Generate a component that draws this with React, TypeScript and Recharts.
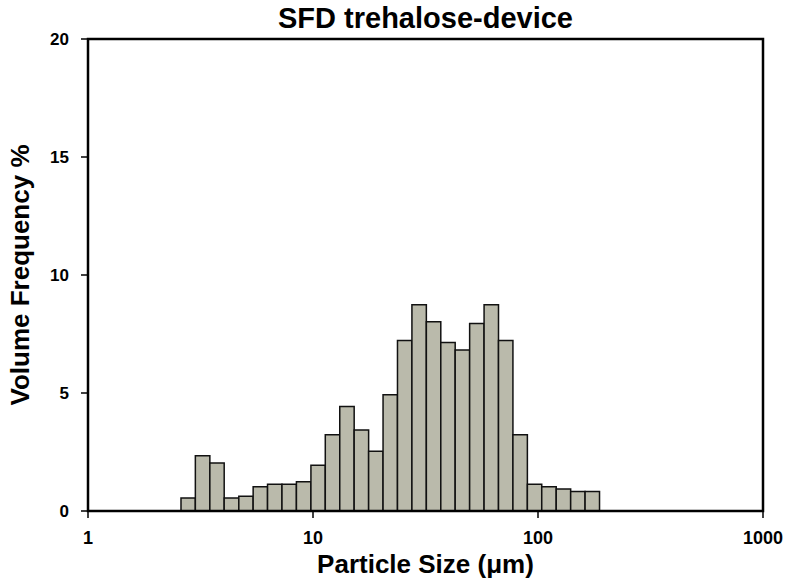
import { ComposedChart, Line, XAxis, YAxis, ReferenceArea, Label } from 'recharts';

// lower/upper edges of the size bins (um)
const binEdges = [
  2.59, 3.0, 3.48, 4.03, 4.68, 5.42, 6.28, 7.28, 8.44, 9.79, 11.34, 13.15, 15.24, 17.67, 20.48,
  23.74, 27.52, 31.9, 36.98, 42.85, 49.68, 57.59, 66.75, 77.37, 89.7, 103.9, 120.5, 139.7, 161.9, 187.7,
];
const volumeFreq = [
  0.55, 2.34, 2.03, 0.55, 0.62, 1.03, 1.13, 1.13, 1.24, 1.94, 3.23, 4.43, 3.43, 2.53, 4.93,
  7.22, 8.74, 8.02, 7.14, 6.82, 7.94, 8.74, 7.22, 3.23, 1.13, 1.03, 0.93, 0.83, 0.83,
];
const xTicks = [1, 10, 100, 1000];
const yTicks = [0, 5, 10, 15, 20];

const chartData = volumeFreq.map((v, i) => ({ size: binEdges[i], pct: v }));

const font = '"Liberation Sans", Arial, sans-serif';
const xTickStyle = { fill: '#000', fontSize: 18, fontWeight: 'bold', fontFamily: font };
const yTickStyle = { fill: '#000', fontSize: 17, fontWeight: 'bold', fontFamily: font };

export default function App() {
  return (
    <div style={{ position: 'relative', width: 800, height: 581, fontFamily: font, background: '#fff' }}>
      <style>{'body{margin:0}'}</style>
      <div
        style={{
          position: 'absolute', left: 88, width: 675, top: 4, textAlign: 'center',
          fontSize: 29, fontWeight: 'bold', lineHeight: '29px', color: '#000',
        }}
      >
        SFD trehalose-device
      </div>
      <ComposedChart width={800} height={581} data={chartData} margin={{ top: 39, right: 37, left: 0, bottom: 0 }}>
        <XAxis
          dataKey="size" type="number" scale="log" domain={[1, 1000]} ticks={xTicks}
          allowDataOverflow axisLine={false} height={70}
          tickLine={{ stroke: '#000', strokeWidth: 1.5 }} tickSize={7} tickMargin={13} tick={xTickStyle}
        >
          <Label value="Particle Size (μm)" position="insideBottom" offset={8}
            style={{ fill: '#000', fontSize: 26, fontWeight: 'bold', fontFamily: font }} />
        </XAxis>
        <YAxis
          type="number" domain={[0, 20]} ticks={yTicks} width={88} axisLine={false}
          tickLine={{ stroke: '#000', strokeWidth: 1.5 }} tickSize={7} tickMargin={12} tick={yTickStyle}
        >
          <Label value="Volume Frequency %" angle={-90} position="insideLeft" offset={20}
            style={{ fill: '#000', fontSize: 26, fontWeight: 'bold', fontFamily: font, textAnchor: 'middle' }} />
        </YAxis>
        {volumeFreq.map((v, i) => (
          <ReferenceArea key={i} x1={binEdges[i]} x2={binEdges[i + 1]} y1={0} y2={v}
            fill="#babaab" fillOpacity={1} stroke="#111" strokeWidth={1.5} />
        ))}
        <ReferenceArea x1={1} x2={1000} y1={0} y2={20} fill="none" stroke="#000" strokeWidth={2.5} />
        <Line dataKey="pct" stroke="none" dot={false} isAnimationActive={false} />
      </ComposedChart>
    </div>
  );
}
